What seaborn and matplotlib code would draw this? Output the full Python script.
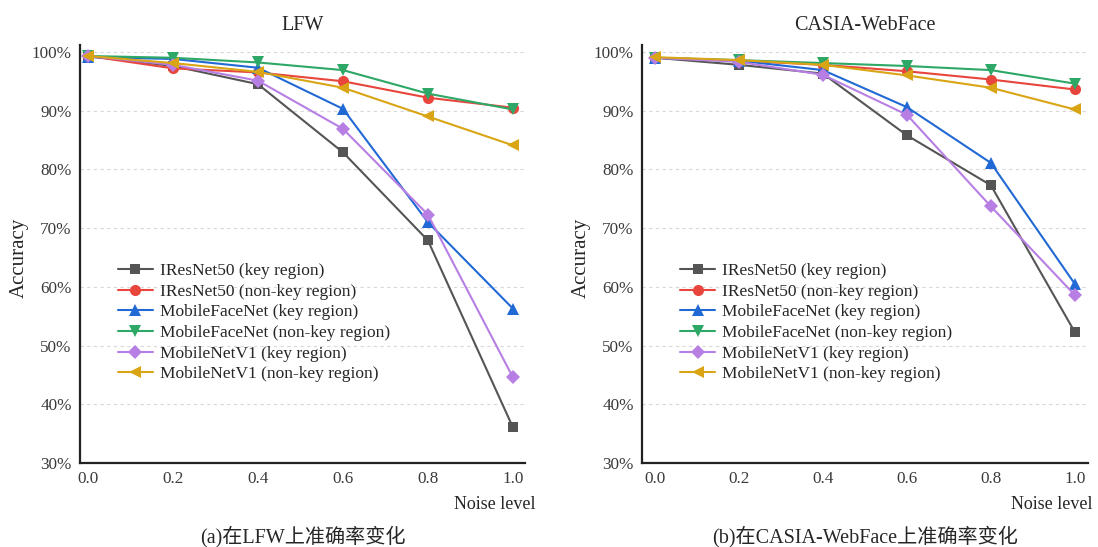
import numpy as np
import pandas as pd
import seaborn as sns
import matplotlib.pyplot as plt
from matplotlib.ticker import FuncFormatter

noise = [0.0, 0.2, 0.4, 0.6, 0.8, 1.0]

series_names = ['IResNet50 (key region)', 'IResNet50 (non-key region)',
                'MobileFaceNet (key region)', 'MobileFaceNet (non-key region)',
                'MobileNetV1 (key region)', 'MobileNetV1 (non-key region)']

# accuracy (%) on LFW
lfw_iresnet_key = [99.3, 97.6, 94.5, 82.9, 67.9, 36.1]
lfw_iresnet_nonkey = [99.3, 97.2, 96.5, 95.0, 92.2, 90.5]
lfw_mfn_key = [99.1, 98.8, 97.3, 90.3, 71.0, 56.3]
lfw_mfn_nonkey = [99.3, 99.0, 98.2, 96.9, 92.9, 90.2]
lfw_mnv1_key = [99.3, 97.8, 95.1, 86.9, 72.3, 44.6]
lfw_mnv1_nonkey = [99.3, 98.1, 96.6, 93.9, 89.0, 84.1]

# accuracy (%) on CASIA-WebFace
casia_iresnet_key = [99.0, 97.8, 96.3, 85.8, 77.3, 52.3]
casia_iresnet_nonkey = [99.0, 98.5, 97.8, 96.7, 95.3, 93.6]
casia_mfn_key = [99.0, 98.5, 96.9, 90.6, 81.1, 60.5]
casia_mfn_nonkey = [99.0, 98.6, 98.1, 97.6, 96.9, 94.6]
casia_mnv1_key = [99.0, 98.3, 96.1, 89.3, 73.7, 58.6]
casia_mnv1_nonkey = [99.1, 98.6, 97.8, 96.0, 93.9, 90.2]

colors = ['#555555', '#e8453c', '#2169d4', '#2ea866', '#b77fe3', '#d9a514']
markers = ['s', 'o', '^', 'v', 'D', '<']
msizes = [7, 8, 8, 8, 7, 8]

sns.set_style('white')
plt.rcParams['font.family'] = ['Liberation Serif', 'Noto Sans CJK SC']

fig = plt.figure(figsize=(10.98, 5.47), dpi=100)
ax1 = fig.add_axes([0.0729, 0.1536, 0.405, 0.7644])
ax2 = fig.add_axes([0.5847, 0.1536, 0.406, 0.7644])

panels = [
    (ax1, 'LFW', [lfw_iresnet_key, lfw_iresnet_nonkey, lfw_mfn_key,
                  lfw_mfn_nonkey, lfw_mnv1_key, lfw_mnv1_nonkey],
     (-0.019, 1.028), '(a)在LFW上准确率变化', 1.025),
    (ax2, 'CASIA-WebFace', [casia_iresnet_key, casia_iresnet_nonkey, casia_mfn_key,
                            casia_mfn_nonkey, casia_mnv1_key, casia_mnv1_nonkey],
     (-0.031, 1.031), '(b)在CASIA-WebFace上准确率变化', 1.011),
]

for ax, title, data, xlim, caption, nx in panels:
    for i, vals in enumerate(data):
        sns.lineplot(x=noise, y=vals, ax=ax, color=colors[i], marker=markers[i],
                     markersize=msizes[i], markeredgewidth=0, linewidth=1.5,
                     label=series_names[i])
    ax.set_xlim(*xlim)
    ax.set_ylim(30, 101.2)
    ax.set_xticks(noise)
    ax.set_xticklabels([f'{v:.1f}' for v in noise])
    ax.set_yticks(range(30, 101, 10))
    ax.yaxis.set_major_formatter(FuncFormatter(lambda v, p: f'{int(v)}%'))
    ax.tick_params(length=0, labelsize=12.3, colors='#3a3a3a', pad=6)
    for y in range(40, 101, 10):
        ax.axhline(y, color='#d8d8d8', linestyle=(0, (3, 3)), linewidth=0.8, zorder=0)
    sns.despine(ax=ax)
    ax.spines['left'].set_color('#222222')
    ax.spines['bottom'].set_color('#222222')
    ax.spines['left'].set_linewidth(1.6)
    ax.spines['bottom'].set_linewidth(1.6)
    ax.set_title(title, fontsize=14.5, pad=11)
    ax.set_ylabel('Accuracy', fontsize=15)
    ax.yaxis.set_label_coords(-0.115, 0.49)
    ax.set_xlabel('')
    ax.text(nx, -0.1, 'Noise level', transform=ax.transAxes, ha='right',
            va='center', fontsize=13)
    ax.text(0.5, -0.175, caption, transform=ax.transAxes, ha='center',
            va='center', fontsize=14.5)
    ax.legend(loc='upper left', bbox_to_anchor=(0.07, 0.495), frameon=False,
              fontsize=12.5, handlelength=2.0, handletextpad=0.4,
              labelspacing=0.26, borderaxespad=0)

fig.savefig('out.png', dpi=100)
